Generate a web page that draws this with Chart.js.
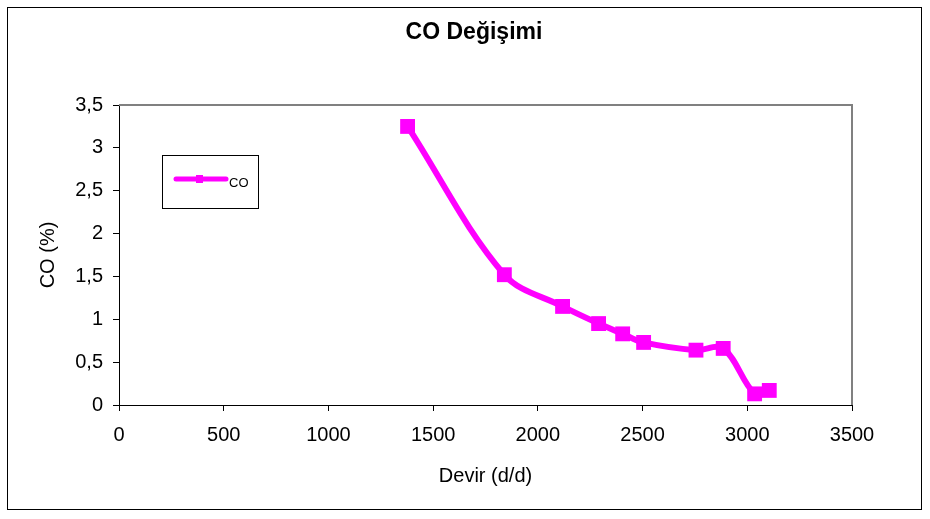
<!DOCTYPE html>
<html>
<head>
<meta charset="utf-8">
<title>CO Değişimi</title>
<script src="https://cdn.jsdelivr.net/npm/chart.js@4.4.1/dist/chart.umd.min.js"></script>
<style>
  html, body { margin: 0; padding: 0; background: #fff; }
  #wrap { width: 930px; height: 519px; }
</style>
</head>
<body>
<div id="wrap"><canvas id="myChart" width="930" height="519"></canvas></div>
<script>
// devir (d/d) ve CO (%) olcumleri
const devir = [1378, 1840, 2118, 2290, 2405, 2505, 2755, 2885, 3035, 3105];
const coValues = [3.25, 1.52, 1.15, 0.95, 0.83, 0.73, 0.64, 0.66, 0.13, 0.17];
const xTicks = [0, 500, 1000, 1500, 2000, 2500, 3000, 3500];
const yTicks = [0, 0.5, 1, 1.5, 2, 2.5, 3, 3.5];

const FONT = "'Liberation Sans', Arial, sans-serif";
const MAGENTA = '#ff00ff';

const points = devir.map(function (d, i) { return { x: d, y: coValues[i] }; });

// border, title and legend box, drawn around the plot
const frame = {
  id: 'frame',
  afterDraw: function (chart) {
    const c = chart.ctx;
    const a = chart.chartArea;
    c.save();
    // outer border
    c.strokeStyle = '#000';
    c.lineWidth = 1;
    c.strokeRect(7.5, 7.5, 914, 502);
    // gray top/right edge of the plot area
    c.strokeStyle = '#808080';
    c.lineWidth = 2;
    c.beginPath();
    c.moveTo(a.left, a.top);
    c.lineTo(a.right, a.top);
    c.lineTo(a.right, a.bottom);
    c.stroke();
    // title
    c.fillStyle = '#000';
    c.font = 'bold 23px ' + FONT;
    c.textAlign = 'center';
    c.textBaseline = 'middle';
    c.fillText('CO Değişimi', 474, 33);
    // legend
    c.strokeStyle = '#000';
    c.lineWidth = 1;
    c.strokeRect(162.5, 155.5, 96, 53);
    c.strokeStyle = MAGENTA;
    c.lineWidth = 5;
    c.lineCap = 'round';
    c.beginPath();
    c.moveTo(176, 179);
    c.lineTo(226, 179);
    c.stroke();
    c.fillStyle = MAGENTA;
    c.fillRect(196, 175, 7, 8);
    c.fillStyle = '#000';
    c.font = '13px ' + FONT;
    c.textAlign = 'left';
    c.textBaseline = 'alphabetic';
    c.fillText(chart.data.datasets[0].label, 229, 187);
    c.restore();
  }
};

const ctx = document.getElementById('myChart').getContext('2d');

let myChart = new Chart(ctx, {
  type: 'scatter',
  data: {
    datasets: [{
      label: 'CO',
      data: points,
      showLine: true,
      tension: 0.35,
      borderColor: MAGENTA,
      backgroundColor: MAGENTA,
      borderWidth: 6,
      pointStyle: 'rect',
      pointRadius: 10.5,
      pointBorderWidth: 0,
      pointHoverRadius: 10.5
    }]
  },
  options: {
    responsive: false,
    animation: false,
    layout: { padding: { top: 105, right: 78, left: 0, bottom: 0 } },
    plugins: {
      legend: { display: false },
      title: { display: false },
      tooltip: { enabled: false }
    },
    scales: {
      x: {
        type: 'linear',
        min: 0,
        max: 3500,
        afterFit: function (s) { s.height = 114; },
        afterBuildTicks: function (s) { s.ticks = xTicks.map(function (v) { return { value: v }; }); },
        ticks: {
          color: '#000',
          padding: 12,
          font: { family: FONT, size: 20 },
          callback: function (v) { return String(v); }
        },
        grid: { drawOnChartArea: false, tickLength: 6, color: '#000' },
        border: { color: '#000', width: 1 },
        title: {
          display: true,
          text: 'Devir (d/d)',
          color: '#000',
          font: { family: FONT, size: 20 },
          padding: { top: 0, bottom: 31 }
        }
      },
      y: {
        min: 0,
        max: 3.5,
        afterFit: function (s) { s.width = 119; },
        afterBuildTicks: function (s) { s.ticks = yTicks.map(function (v) { return { value: v }; }); },
        ticks: {
          color: '#000',
          padding: 10,
          font: { family: FONT, size: 20 },
          callback: function (v) { return String(v).replace('.', ','); }
        },
        grid: { drawOnChartArea: false, tickLength: 6, color: '#000' },
        border: { color: '#000', width: 1 },
        title: {
          display: true,
          text: 'CO (%)',
          color: '#000',
          font: { family: FONT, size: 20 },
          padding: { top: 36, bottom: 0 }
        }
      }
    }
  },
  plugins: [frame]
});
</script>
</body>
</html>
